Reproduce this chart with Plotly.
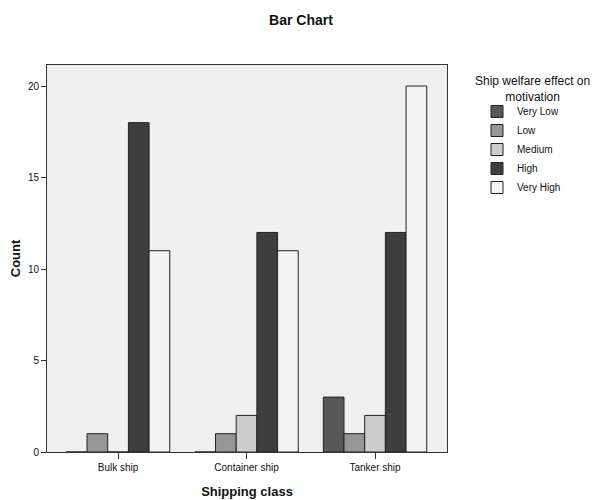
import plotly.graph_objects as go

categories = ["Bulk ship", "Container ship", "Tanker ship"]
levels = ["Very Low", "Low", "Medium", "High", "Very High"]
very_low = [0, 0, 3]
low = [1, 1, 1]
medium = [0, 2, 2]
high = [18, 12, 12]
very_high = [11, 11, 20]
series = [very_low, low, medium, high, very_high]
colors = ["#585858", "#969696", "#cdcdcd", "#3e3e3e", "#f4f4f4"]

W, H = 590, 492          # page body has an 8px margin
PL, PT, PR, PB = 39, 57, 439, 444
pw, ph = PR - PL, PB - PT

fig = go.Figure()
for name, vals, col in zip(levels, series, colors):
    fig.add_trace(go.Bar(
        x=categories, y=vals, name=name,
        marker=dict(color=col, line=dict(color="#222222", width=1)),
    ))

fig.add_annotation(
    text="Ship welfare effect on<br>motivation", xref="paper", yref="paper",
    x=(524 - PL) / pw, y=1 + (PT - 64) / ph, xanchor="center", yanchor="top",
    showarrow=False, align="center", font=dict(size=12, color="#111111"),
)

fig.update_layout(
    width=W, height=H,
    barmode="group", bargap=0.195, bargroupgap=0,
    paper_bgcolor="white", plot_bgcolor="#f0f0f0",
    margin=dict(l=PL, r=W - PR, t=PT, b=H - PB, autoexpand=False),
    font=dict(family="Liberation Sans, Arial, sans-serif", color="#111111", size=11),
    title=dict(text="<b>Bar Chart</b>", x=293 / W, xanchor="center", y=1 - 12 / H, yanchor="middle",
               font=dict(size=14, color="#111111")),
    legend=dict(
        x=(469 - PL) / pw, xanchor="left", y=1 + (PT - 89) / ph, yanchor="top",
        font=dict(size=10, color="#111111"),
        bgcolor="rgba(0,0,0,0)", tracegroupgap=0, itemwidth=30,
    ),
    xaxis=dict(
        title=dict(text="<b>Shipping class</b>", font=dict(size=13), standoff=14),
        range=[-0.553, 2.56],
        showline=True, linecolor="#333333", linewidth=1, mirror=True,
        ticks="outside", ticklen=6, tickcolor="#333333",
        tickfont=dict(size=10), showgrid=False,
    ),
    yaxis=dict(
        title=dict(text="<b>Count</b>", font=dict(size=13), standoff=4),
        range=[0, 21.15], tickvals=[0, 5, 10, 15, 20],
        showline=True, linecolor="#333333", linewidth=1, mirror=True,
        ticks="outside", ticklen=5, tickcolor="#333333",
        tickfont=dict(size=10), showgrid=False, zeroline=False,
    ),
)

fig.write_html("out.html")
